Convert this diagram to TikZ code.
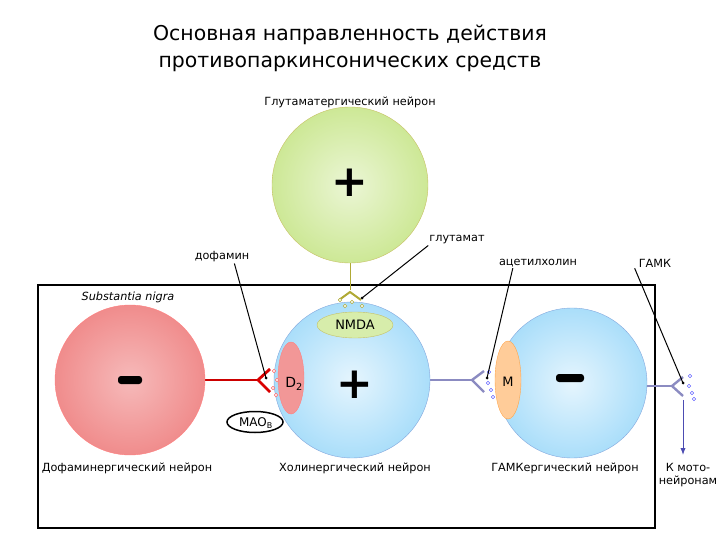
\documentclass[tikz,border=0pt]{standalone}
\usepackage{fontspec}
\setmainfont{DejaVu Sans}
\usetikzlibrary{shapes.geometric,arrows.meta}
\definecolor{rd}{RGB}{240,140,140}
\definecolor{bl}{RGB}{170,222,250}
\definecolor{gr}{RGB}{205,232,150}
\begin{document}
\begin{tikzpicture}[x=1bp,y=-1bp,
  lbl/.style={font=\fontsize{11.3}{13}\selectfont, inner sep=1pt},
  ptr/.style={black, line width=1pt},
  sign/.style={font=\fontsize{44}{44}\selectfont\bfseries},
  bar/.style={fill=black, rounded corners=3bp},
  ves/.style={draw=#1, fill=white, circle, inner sep=0pt, minimum size=3.5bp, line width=0.6pt}]
\useasboundingbox (0,0) rectangle (720,540);
\node[font=\fontsize{20.5}{27}\selectfont, align=center] (title) at (350,48) {Основная направленность действия\\противопаркинсонических средств};
\node[lbl] (glutn) at (350,102) {Глутаматергический нейрон};
% box
\draw[line width=1.6pt] (38,285) rectangle (655,528);
\node[lbl, fill=white, font=\fontsize{11.3}{13}\selectfont\itshape] (sn) at (128,297) {Substantia nigra};
% green neuron
\draw[olive!70, line width=1pt] (350,262) -- (350,290);
\draw[olive!70, line width=2pt] (339,300) -- (350,292) -- (361,300);
\node[circle, minimum size=156bp, draw=olive!50, inner color=gr!40, outer color=gr] (green) at (350,185) {};
\node[sign] (gplus) at (350,183) {+};
% red neuron
\draw[red!80!black, line width=1.8pt] (205,380) -- (258,380);
\draw[red!85!black, line width=2.8pt] (270,369) -- (258,380) -- (270,392);
\node[circle, minimum size=150bp, draw=red!50, inner color=rd!60, outer color=rd] (red) at (130,380) {};
\fill[bar] (118,376) rectangle (142,384);
% blue cholinergic
\draw[blue!30!gray!70, line width=1.4pt] (430,380) -- (472,380);
\draw[blue!30!gray!70, line width=2.4pt] (484,371) -- (472,380) -- (484,392);
\node[circle, minimum size=156bp, draw=cyan!50!blue!50, inner color=bl!30, outer color=bl] (chol) at (352,380) {};
\node[ellipse, minimum width=26bp, minimum height=72bp, draw=red!50, fill=rd!90, inner sep=0pt] (d2) at (291,378) {};
\node[font=\fontsize{14}{14}\selectfont] (d2t) at (294,384) {D\textsubscript{2}};
\node[ellipse, minimum width=76bp, minimum height=26bp, draw=olive!50, fill=gr!80, inner sep=0pt] (nmda) at (355,325) {};
\node[font=\fontsize{13}{13}\selectfont] (nmdat) at (355,325) {NMDA};
\node[sign] (cplus) at (355,385) {+};
% GABA neuron
\draw[blue!30!gray!70, line width=1.4pt] (645,386) -- (672,386);
\draw[blue!30!gray!70, line width=2.4pt] (683,377) -- (672,386) -- (683,396);
\draw[blue!40!gray, line width=1pt, -{Latex[length=7pt]}] (683,400) -- (683,455);
\node[circle, minimum size=150bp, draw=cyan!50!blue!50, inner color=bl!30, outer color=bl] (gaba) at (572,383) {};
\node[ellipse, minimum width=26bp, minimum height=78bp, draw=orange!70, fill=orange!40, inner sep=0pt] (m) at (508,380) {};
\node[font=\fontsize{13}{13}\selectfont] (mt) at (508,382) {M};
\fill[bar] (556,374) rectangle (584,382);
% vesicles
\foreach \i/\p in {a/{(274,371)},b/{(277,380)},c/{(273,388)},d/{(276,395)}} \node[ves=red!60] (rv\i) at \p {};
\foreach \i/\p in {a/{(345,306)},b/{(352,302)},c/{(362,306)},d/{(340,300)}} \node[ves=olive!70] (gv\i) at \p {};
\foreach \i/\p in {a/{(489,372)},b/{(488,383)},c/{(491,390)},d/{(493,397)}} \node[ves=blue!60] (bv\i) at \p {};
\foreach \i/\p in {a/{(690,376)},b/{(689,386)},c/{(692,393)},d/{(694,399)}} \node[ves=blue!60] (mv\i) at \p {};
% MAO
\node[ellipse, draw, line width=1.5pt, fill=white, minimum width=56bp, minimum height=21bp, inner sep=0pt] (mao) at (255,422) {};
\node[font=\fontsize{12}{12}\selectfont] (maot) at (256,423) {MAO\textsubscript{B}};
% labels
\node[lbl] (l1) at (127,468) {Дофаминергический нейрон};
\node[lbl] (l2) at (355,468) {Холинергический нейрон};
\node[lbl] (l3) at (565,468) {ГАМКергический нейрон};
\node[lbl, align=center] (l4) at (688,475) {К мото-\\нейронам};
\node[lbl] (dof) at (222,257) {дофамин};
\node[lbl] (glu) at (457,240) {глутамат};
\node[lbl] (ach) at (538,263) {ацетилхолин};
\node[lbl] (gamk) at (655,263) {ГАМК};
\coordinate (pd) at (266,378);
\coordinate (pg) at (362,298);
\coordinate (pa) at (487,378);
\coordinate (pm) at (683,383);
\draw[ptr] (dof.south east) ++(-16,0) -- (pd);
\fill (pd) circle (1.5);
\draw[ptr] (glu.south west) -- (pg);
\fill (pg) circle (1.5);
\draw[ptr] (ach.south west) ++(15,0) -- (pa);
\fill (pa) circle (1.5);
\draw[ptr] (gamk.south west) ++(-3,0) -- (pm);
\fill (pm) circle (1.5);
\end{tikzpicture}
\end{document}
